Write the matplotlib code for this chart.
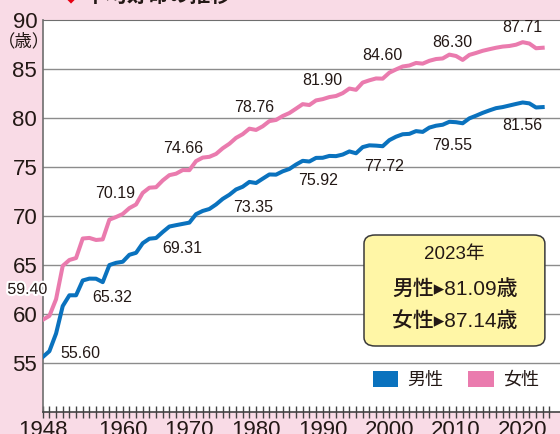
"""
Japanese average life expectancy, 1948-2023.
"""

import matplotlib.pyplot as plt
import matplotlib.patheffects as pe
from matplotlib.patches import Patch, FancyBboxPatch

years = list(range(1948, 2024))

male = [
    55.60, 56.20, 58.00, 60.80, 61.90, 61.90, 63.41, 63.60, 63.59, 63.24,
    64.98, 65.21, 65.32, 66.03, 66.23, 67.21, 67.67, 67.74, 68.35, 68.91,
    69.05, 69.18, 69.31, 70.17, 70.50, 70.70, 71.16, 71.73, 72.15, 72.69,
    72.97, 73.46, 73.35, 73.79, 74.22, 74.20, 74.54, 74.78, 75.23, 75.61,
    75.54, 75.91, 75.92, 76.11, 76.09, 76.25, 76.57, 76.38, 77.01, 77.19,
    77.16, 77.10, 77.72, 78.07, 78.32, 78.36, 78.64, 78.56, 79.00, 79.19,
    79.29, 79.59, 79.55, 79.44, 79.94, 80.21, 80.50, 80.75, 80.98, 81.09,
    81.25, 81.41, 81.56, 81.47, 81.05, 81.09,
]

female = [
    59.40, 59.80, 61.50, 64.90, 65.50, 65.70, 67.69, 67.75, 67.54, 67.60,
    69.61, 69.88, 70.19, 70.79, 71.16, 72.34, 72.87, 72.92, 73.61, 74.15,
    74.30, 74.67, 74.66, 75.58, 75.94, 76.02, 76.31, 76.89, 77.35, 77.95,
    78.33, 78.89, 78.76, 79.13, 79.66, 79.78, 80.18, 80.48, 80.93, 81.39,
    81.30, 81.77, 81.90, 82.11, 82.22, 82.51, 82.98, 82.85, 83.59, 83.82,
    84.01, 83.99, 84.60, 84.93, 85.23, 85.33, 85.59, 85.52, 85.81, 85.99,
    86.05, 86.44, 86.30, 85.90, 86.41, 86.61, 86.83, 86.99, 87.14, 87.26,
    87.32, 87.45, 87.71, 87.57, 87.09, 87.14,
]

# labelled values and where their text sits
label_text = ["59.40", "55.60", "65.32", "70.19", "69.31", "74.66", "73.35",
              "78.76", "75.92", "77.72", "81.90", "84.60", "86.30", "87.71",
              "79.55", "81.56"]
label_x = [1945.7, 1953.6, 1958.4, 1958.9, 1969.0, 1969.0, 1979.6,
           1979.7, 1989.3, 1999.2, 1990.0, 1999.0, 2009.4, 2019.9,
           2009.4, 2019.9]
label_y = [62.5, 56.0, 61.65, 72.3, 66.7, 76.9, 70.9,
           81.0, 73.6, 75.0, 83.85, 86.4, 87.7, 89.25,
           77.2, 79.25]

yticks = [55, 60, 65, 70, 75, 80, 85, 90]
xticks = [1948, 1960, 1970, 1980, 1990, 2000, 2010, 2020]

BLUE = "#0a72be"
PINK = "#ea7bae"
BG = "#f9dbe6"
INK = "#231815"
FONTS = ["Liberation Sans", "Noto Sans CJK JP", "DejaVu Sans"]

plt.rcParams["font.family"] = FONTS

fig = plt.figure(figsize=(5.6, 4.34), dpi=100, facecolor=BG)
ax = fig.add_axes([0.0763, 0.0507, 0.9237, 0.9039])
ax.set_facecolor("white")

ax.plot(years, male, color=BLUE, lw=2.9, solid_joinstyle="round", zorder=3)
ax.plot(years, female, color=PINK, lw=2.9, solid_joinstyle="round", zorder=3)

ax.set_xlim(1948, 2025.6)
ax.set_ylim(50, 90)

for y in yticks[:-1]:
    ax.axhline(y, color="#8c8c8c", lw=1.0, zorder=1)

ax.spines["right"].set_visible(False)
ax.spines["left"].set_color("#6e6e6e")
ax.spines["top"].set_color("#6e6e6e")
ax.spines["bottom"].set_color("#444444")
ax.spines["left"].set_linewidth(1.2)
ax.spines["bottom"].set_linewidth(1.2)

ax.set_yticks(yticks)
ax.set_yticklabels([str(v) for v in yticks])
ax.tick_params(axis="y", length=0, pad=4, labelsize=16, labelcolor=INK)

ax.set_xticks(xticks)
ax.set_xticklabels([str(v) for v in xticks])
ax.set_xticks(list(range(1948, 2025)), minor=True)
ax.tick_params(axis="x", which="both", direction="inout", length=9,
               width=1.0, color="#444444", labelsize=16, labelcolor=INK, pad=1)

fig.text(0.042, 1 - 41 / 434, "（歳）", ha="center", va="center", fontsize=12.5,
         color=INK, family=["Noto Sans CJK JP"])

# clipped title at the top edge
fig.text(0.112, 1.011, "◆", ha="left", va="center", fontsize=15,
         color="#e60012", family=["DejaVu Sans"])
fig.text(0.152, 1.011, "平均寿命の推移", ha="left", va="center", fontsize=15,
         fontweight="bold", color=INK, family=["Noto Sans CJK JP"])

for t, x, y in zip(label_text, label_x, label_y):
    txt = ax.text(x, y, t, ha="center", va="center", fontsize=11.5,
                  color=INK, zorder=4, clip_on=False)
    if t == "59.40":
        txt.set_path_effects([pe.withStroke(linewidth=3, foreground="white")])

# 2023 summary box
box = FancyBboxPatch((0.650, 1 - 346 / 434), 0.323, 111 / 434,
                     boxstyle="round,pad=0,rounding_size=0.02",
                     transform=fig.transFigure, facecolor="#fff6a6",
                     edgecolor="#3a3a3a", lw=1.1, zorder=5)
fig.patches.append(box)
fig.text(0.812, 1 - 255 / 434, "2023年", ha="center", va="center",
         fontsize=13.5, color=INK, zorder=6)
fig.text(0.812, 1 - 289 / 434, "男性▸81.09歳", ha="center", va="center",
         fontsize=15, fontweight="medium", color=INK, zorder=6)
fig.text(0.812, 1 - 321 / 434, "女性▸87.14歳", ha="center", va="center",
         fontsize=15, fontweight="medium", color=INK, zorder=6)

handles = [Patch(facecolor=BLUE, label="男性"), Patch(facecolor=PINK, label="女性")]
fig.legend(handles=handles, loc="center", bbox_to_anchor=(0.814, 1 - 380 / 434),
           ncol=2, frameon=False, fontsize=13, handlelength=1.4,
           handleheight=0.95, handletextpad=0.5, columnspacing=1.4,
           labelcolor=INK)

fig.savefig("out.png", dpi=100, facecolor=BG)
